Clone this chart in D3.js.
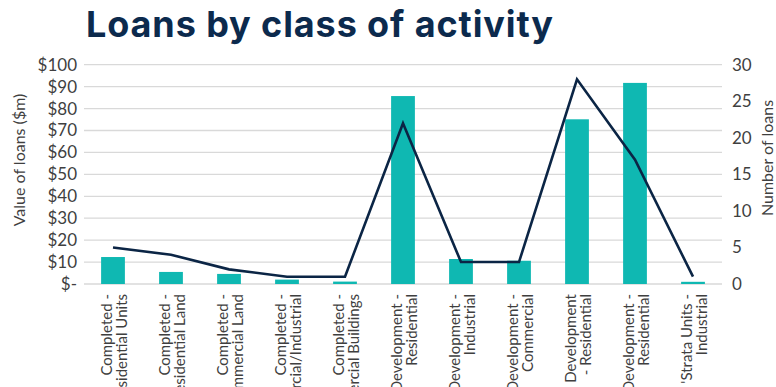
<!DOCTYPE html>
<html>
<head>
<meta charset="utf-8">
<script src="https://cdn.jsdelivr.net/npm/d3@7"></script>
<style>
  html, body { margin: 0; padding: 0; background: #fff; }
  svg { display: block; font-family: Lato, "Open Sans", sans-serif; }
</style>
</head>
<body>
<svg id="chart" width="776" height="387"></svg>
<script>
// Loan classes (each label wraps onto two lines at "\n")
const categories = [
  "Completed -\nResidential Units",
  "Completed -\nResidential Land",
  "Completed -\nCommercial Land",
  "Completed -\nCommercial/Industrial",
  "Completed -\nCommercial Buildings",
  "Land Development -\nResidential",
  "Land Development -\nIndustrial",
  "Land Development -\nCommercial",
  "Construction Development\n- Residential",
  "Subdivision Development -\nResidential",
  "Completed 'Strata Units -\nIndustrial"
];
// Value of loans ($m) – bars, left axis
const loanValues = [12.3, 5.5, 4.6, 2.0, 1.1, 85.7, 11.4, 10.6, 75.1, 91.7, 1.0];
// Number of loans – line, right axis
const loanCounts = [5, 4, 2, 1, 1, 22, 3, 3, 28, 17, 1];
// Axis ticks
const valueTicks = [0, 10, 20, 30, 40, 50, 60, 70, 80, 90, 100];
const countTicks = [0, 5, 10, 15, 20, 25, 30];

const svg = d3.select("#chart");
const plotLeft = 84, plotRight = 722, plotTop = 64.7, plotBottom = 284;

const x = d3.scaleBand().domain(d3.range(categories.length)).range([plotLeft, plotRight]).paddingInner(0.59).paddingOuter(0.295);
const yL = d3.scaleLinear().domain([0, 100]).range([plotBottom, plotTop]);
const yR = d3.scaleLinear().domain([0, 30]).range([plotBottom, plotTop]);

const textCol = "#3f3f3f";

// Title
svg.append("text")
  .attr("x", 86).attr("y", 37)
  .attr("fill", "#0c2a4d")
  .attr("font-family", "Inter, Lato, sans-serif")
  .attr("font-size", 36).attr("font-weight", 700)
  .attr("textLength", 467).attr("lengthAdjust", "spacing")
  .text("Loans by class of activity");

// Gridlines
svg.append("g").selectAll("line").data(valueTicks).join("line")
  .attr("x1", plotLeft).attr("x2", plotRight)
  .attr("y1", d => yL(d)).attr("y2", d => yL(d))
  .attr("stroke", "#d9d9d9").attr("stroke-width", 1.3);

// Left axis
const axL = svg.append("g").attr("transform", `translate(${plotLeft},0)`)
  .call(d3.axisLeft(yL).tickValues(valueTicks).tickSize(0).tickPadding(7)
    .tickFormat(d => d === 0 ? "$-" : "$" + d));
axL.select(".domain").remove();
axL.selectAll("text").attr("font-size", 17).attr("fill", textCol).attr("font-family", "Lato, sans-serif");

// Right axis
const axR = svg.append("g").attr("transform", `translate(${plotRight},0)`)
  .call(d3.axisRight(yR).tickValues(countTicks).tickSize(0).tickPadding(10));
axR.select(".domain").remove();
axR.selectAll("text").attr("font-size", 17).attr("fill", textCol).attr("font-family", "Lato, sans-serif");

// Axis titles
svg.append("text")
  .attr("transform", `translate(25,160) rotate(-90)`)
  .attr("text-anchor", "middle").attr("font-size", 16).attr("fill", textCol)
  .text("Value of loans ($m)");
svg.append("text")
  .attr("transform", `translate(773,158) rotate(-90)`)
  .attr("text-anchor", "middle").attr("font-size", 16).attr("fill", textCol)
  .text("Number of loans");

// Bars
svg.append("g").selectAll("rect").data(loanValues).join("rect")
  .attr("x", (d, i) => x(i))
  .attr("width", x.bandwidth())
  .attr("y", d => yL(d))
  .attr("height", d => yL(0) - yL(d))
  .attr("fill", "#0fb8b2");

// Line
const line = d3.line().x((d, i) => x(i) + x.bandwidth() / 2).y(d => yR(d));
svg.append("path").datum(loanCounts)
  .attr("d", line)
  .attr("fill", "none").attr("stroke", "#0b2545").attr("stroke-width", 2.6)
  .attr("stroke-linejoin", "miter");

// Category labels, rotated
const lbl = svg.append("g").selectAll("text").data(categories).join("text")
  .attr("transform", (d, i) => `translate(${x(i) + x.bandwidth() / 2},294) rotate(-90)`)
  .attr("text-anchor", "end").attr("font-size", 15).attr("fill", textCol);
lbl.each(function (d) {
  const lines = d.split("\n");
  d3.select(this).selectAll("tspan").data(lines).join("tspan")
    .attr("x", 0).attr("y", (t, j) => -1.5 + j * 15)
    .text(t => t);
});
</script>
</body>
</html>
